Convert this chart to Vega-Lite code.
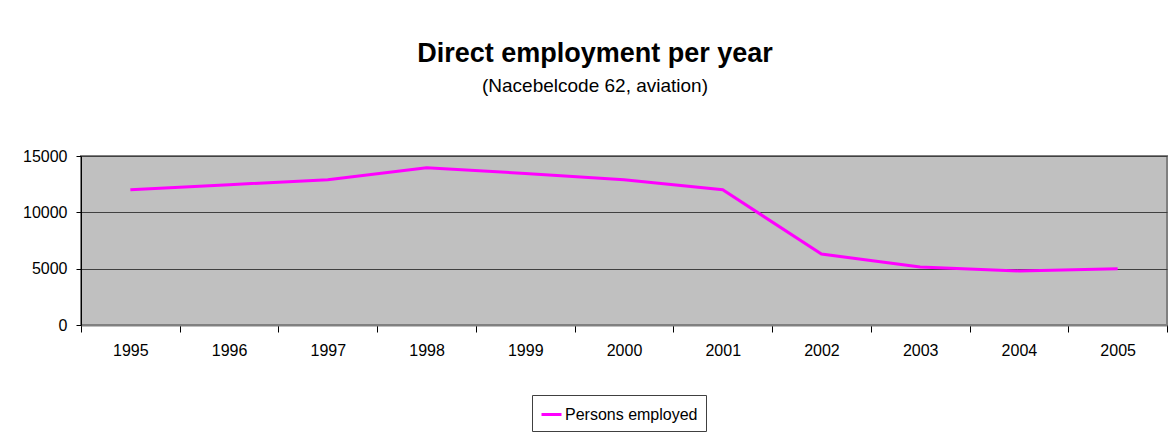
{
  "$schema": "https://vega.github.io/schema/vega-lite/v6.json",
  "width": 1086,
  "height": 169,
  "autosize": "none",
  "padding": {"left": 81, "top": 156, "right": 6, "bottom": 108},
  "background": "white",
  "title": {
    "text": "Direct employment per year",
    "subtitle": "(Nacebelcode 62, aviation)",
    "anchor": "middle",
    "dx": -29,
    "offset": 51,
    "font": "Liberation Sans",
    "fontSize": 27,
    "fontWeight": "bold",
    "color": "black",
    "subtitleFont": "Liberation Sans",
    "subtitleFontSize": 19,
    "subtitleColor": "black",
    "subtitlePadding": 9
  },
  "data": {
    "values": [
      {"year": "1995", "value": 12000, "series": "Persons employed"},
      {"year": "1996", "value": 12450, "series": "Persons employed"},
      {"year": "1997", "value": 12900, "series": "Persons employed"},
      {"year": "1998", "value": 13950, "series": "Persons employed"},
      {"year": "1999", "value": 13450, "series": "Persons employed"},
      {"year": "2000", "value": 12900, "series": "Persons employed"},
      {"year": "2001", "value": 12000, "series": "Persons employed"},
      {"year": "2002", "value": 6300, "series": "Persons employed"},
      {"year": "2003", "value": 5150, "series": "Persons employed"},
      {"year": "2004", "value": 4800, "series": "Persons employed"},
      {"year": "2005", "value": 5000, "series": "Persons employed"}
    ]
  },
  "mark": {"type": "line", "strokeWidth": 3},
  "encoding": {
    "x": {
      "field": "year",
      "type": "ordinal",
      "scale": {"type": "band", "paddingInner": 0, "paddingOuter": 0},
      "axis": {
        "title": null,
        "labelAngle": 0,
        "tickBand": "extent",
        "tickSize": 7,
        "tickColor": "black",
        "domainColor": "#808080",
        "domainWidth": 2,
        "labelPadding": 10,
        "labelFont": "Liberation Sans",
        "labelFontSize": 16,
        "labelColor": "black",
        "grid": false
      }
    },
    "y": {
      "field": "value",
      "type": "quantitative",
      "scale": {"domain": [0, 15000], "nice": false},
      "axis": {
        "title": null,
        "values": [0, 5000, 10000, 15000],
        "format": "d",
        "tickSize": 5,
        "tickColor": "black",
        "domainColor": "black",
        "labelPadding": 9,
        "labelFont": "Liberation Sans",
        "labelFontSize": 16,
        "labelColor": "black",
        "grid": true,
        "gridColor": "#404040",
        "gridWidth": 1,
        "gridOpacity": 1
      }
    },
    "color": {
      "field": "series",
      "type": "nominal",
      "scale": {"range": ["#FF00FF"]},
      "legend": {
        "title": null,
        "orient": "none",
        "legendX": 451,
        "legendY": 239,
        "direction": "horizontal",
        "symbolType": "stroke",
        "symbolStrokeWidth": 3,
        "symbolSize": 400,
        "labelFont": "Liberation Sans",
        "labelFontSize": 16,
        "labelColor": "black",
        "labelOffset": 2,
        "strokeColor": "#404040",
        "fillColor": "white",
        "padding": 8
      }
    }
  },
  "config": {
    "view": {"fill": "#C0C0C0", "stroke": "#808080", "strokeWidth": 2}
  }
}
